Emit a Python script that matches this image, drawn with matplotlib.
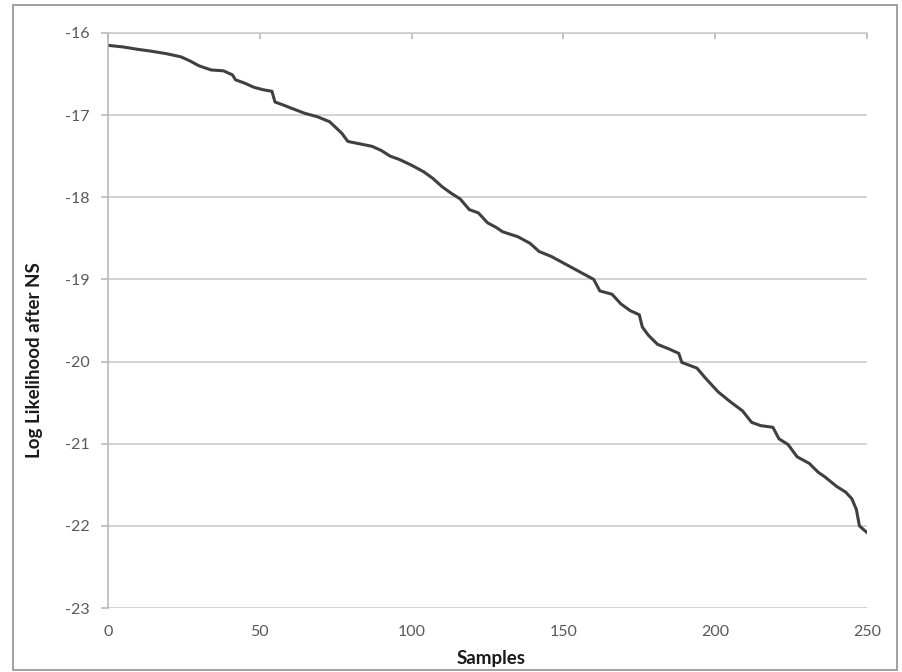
import matplotlib
matplotlib.use("Agg")
import matplotlib.pyplot as plt
from matplotlib.patches import Rectangle

plt.rcParams['font.family'] = ['Lato', 'DejaVu Sans']
plt.rcParams['axes.unicode_minus'] = False

# values (sample, log likelihood)
samples = [0, 5, 10, 14, 19, 24, 27, 30, 34, 38, 41, 42, 45, 48, 51, 54, 55, 58,
           60, 65, 69, 73, 75, 77, 79, 83, 87, 90, 93, 96, 100, 104, 107, 110,
           113, 116, 119, 122, 125, 128, 130, 135, 139, 142, 146, 150, 153, 156,
           160, 162, 166, 169, 172, 175, 176, 178, 181, 185, 188, 189, 194, 197,
           201, 205, 209, 212, 215, 219, 221, 224, 227, 231, 234, 236, 240, 243,
           245, 246.5, 247.5, 249, 250]
loglik = [-16.15, -16.17, -16.20, -16.22, -16.25, -16.29, -16.34, -16.40, -16.45,
          -16.46, -16.51, -16.57, -16.61, -16.66, -16.69, -16.71, -16.84, -16.88,
          -16.91, -16.98, -17.02, -17.08, -17.15, -17.22, -17.32, -17.35, -17.38,
          -17.43, -17.50, -17.54, -17.61, -17.69, -17.77, -17.87, -17.95, -18.02,
          -18.15, -18.19, -18.31, -18.37, -18.42, -18.48, -18.56, -18.66, -18.72,
          -18.80, -18.86, -18.92, -19.00, -19.14, -19.18, -19.30, -19.38, -19.43,
          -19.58, -19.68, -19.79, -19.85, -19.90, -20.01, -20.08, -20.21, -20.37,
          -20.49, -20.60, -20.74, -20.78, -20.80, -20.94, -21.01, -21.16, -21.24,
          -21.35, -21.40, -21.52, -21.59, -21.67, -21.80, -22.00, -22.05, -22.08]

xticks = [0, 50, 100, 150, 200, 250]
yticks = [-16, -17, -18, -19, -20, -21, -22, -23]

W, H = 903, 672
fig = plt.figure(figsize=(W / 100, H / 100), dpi=100)
ax = fig.add_axes([108 / W, 1 - 608 / H, (867 - 108) / W, (608 - 33) / H])

ax.plot(samples, loglik, color='#404040', lw=2.2, solid_joinstyle='round')

ax.set_xlim(0, 250)
ax.set_ylim(-23, -16)
ax.set_xticks(xticks)
ax.set_yticks(yticks)

grid_c = '#c8c8c8'
ax.yaxis.grid(True, color=grid_c, lw=1.1)
ax.set_axisbelow(True)
for side in ['right', 'bottom']:
    ax.spines[side].set_visible(False)
ax.spines['left'].set_color('#b4b4b4')
ax.spines['top'].set_color(grid_c)
ax.spines['left'].set_linewidth(1.1)
ax.spines['top'].set_linewidth(1.1)

# Excel style: x axis line on top (ticks pointing down), labels at bottom
ax.tick_params(axis='x', bottom=False, top=True, labelbottom=True, labeltop=False,
               direction='in', length=4, color='#b4b4b4', width=1.1,
               labelsize=11.5, labelcolor='#595959', pad=12)
ax.tick_params(axis='y', direction='out', length=5, color='#b4b4b4', width=1.1,
               labelsize=11.5, labelcolor='#595959', pad=8)

ax.set_xlabel('Samples', fontsize=13.5, fontweight='bold', color='#1a1a1a')
ax.set_ylabel('Log Likelihood after NS', fontsize=13.5, fontweight='bold', color='#1a1a1a')
ax.xaxis.set_label_coords(0.505, -0.073)
ax.yaxis.set_label_coords(-0.086, 0.431)

# chart border
fig.patches.append(Rectangle((13 / W, 2 / H), (897 - 13) / W, (667 - 2) / H,
                             transform=fig.transFigure, fill=False,
                             edgecolor='#9a9a9a', lw=1.3))

fig.savefig('out.png', dpi=100)
